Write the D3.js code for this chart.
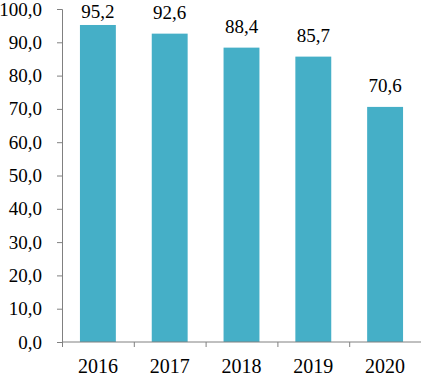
<!DOCTYPE html>
<html>
<head>
<meta charset="utf-8">
<script src="https://cdn.jsdelivr.net/npm/d3@7"></script>
<style>
  body { margin: 0; background: #fff; }
  text { font-family: "Liberation Serif", "DejaVu Serif", serif; fill: #000; }
</style>
</head>
<body>
<svg width="422" height="377"></svg>
<script>
// Data
const years = ["2016", "2017", "2018", "2019", "2020"];
const values = [95.2, 92.6, 88.4, 85.7, 70.6];
const yTicks = [0, 10, 20, 30, 40, 50, 60, 70, 80, 90, 100];

const margin = { top: 9, right: 1, bottom: 35, left: 62 },
  width = 422 - margin.left - margin.right,
  height = 377 - margin.top - margin.bottom;

const svg = d3.select("svg")
  .append("g")
  .attr("transform", `translate(${margin.left},${margin.top})`);

const fmt = (d) => d3.format(".1f")(d).replace(".", ",");

const x = d3.scaleBand().domain(years).range([0, width]).paddingInner(0.5).paddingOuter(0.25);
const y = d3.scaleLinear().domain([0, 100]).range([height, 0]);

// Bars
svg.selectAll(".bar")
  .data(values)
  .enter()
  .append("rect")
  .attr("class", "bar")
  .attr("x", (d, i) => x(years[i]))
  .attr("width", x.bandwidth())
  .attr("y", (d) => y(d))
  .attr("height", (d) => height - y(d))
  .attr("fill", "#45afc7");

// Value labels (pushed down when they would leave the top of the chart)
svg.selectAll(".val")
  .data(values)
  .enter()
  .append("text")
  .attr("class", "val")
  .attr("x", (d, i) => x(years[i]) + x.bandwidth() / 2)
  .attr("y", (d) => Math.max(y(d) - 15, 18 - margin.top))
  .attr("text-anchor", "middle")
  .style("font-size", "19px")
  .text((d) => fmt(d));

// Y axis
const yAxis = svg.append("g")
  .call(d3.axisLeft(y).tickValues(yTicks).tickFormat(fmt).tickSize(5).tickPadding(15));
yAxis.selectAll("text").style("font-size", "19px");
yAxis.select(".domain").attr("d", `M-5,0.5H0.5V${height}`);

// X axis with ticks between categories
const xAxis = svg.append("g").attr("transform", `translate(0,${height})`);
xAxis.append("line")
  .attr("x1", 0).attr("x2", width)
  .attr("stroke", "#808080");
const step = x.step();
xAxis.selectAll(".tk")
  .data(d3.range(years.length))
  .enter()
  .append("line")
  .attr("x1", (d) => 0.5 + d * step)
  .attr("x2", (d) => 0.5 + d * step)
  .attr("y1", 0).attr("y2", 5)
  .attr("stroke", "#808080");
xAxis.selectAll(".lbl")
  .data(years)
  .enter()
  .append("text")
  .attr("x", (d) => x(d) + x.bandwidth() / 2)
  .attr("y", 31)
  .attr("text-anchor", "middle")
  .style("font-size", "20px")
  .text((d) => d);

svg.selectAll(".domain, .tick line").attr("stroke", "#808080");
</script>
</body>
</html>
